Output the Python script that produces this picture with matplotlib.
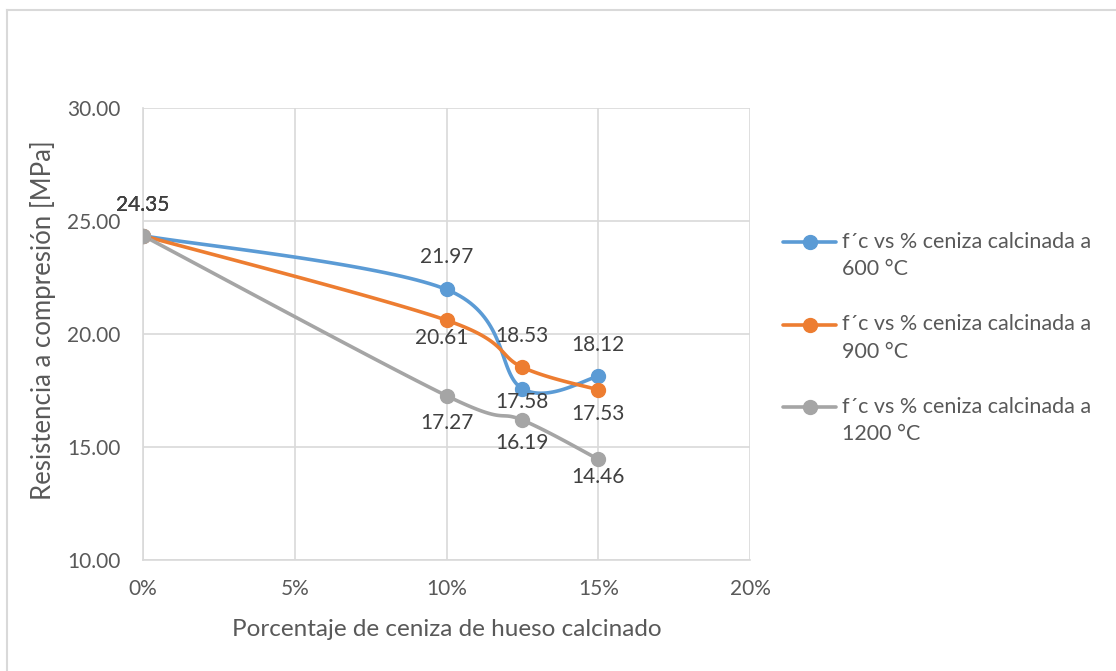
import numpy as np
import matplotlib
matplotlib.use("Agg")
import matplotlib.pyplot as plt
from matplotlib.lines import Line2D
from matplotlib.ticker import FuncFormatter

plt.rcParams['font.family'] = ['Lato', 'DejaVu Sans']

# Percentage of calcined bone ash and compressive strength (MPa)
ceniza_pct = [0, 10, 12.5, 15]
fc_600 = [24.35, 21.97, 17.58, 18.12]
fc_900 = [24.35, 20.61, 18.53, 17.53]
fc_1200 = [24.35, 17.27, 16.19, 14.46]

series_labels = [("f´c vs % ceniza calcinada a", "600 °C"),
                 ("f´c vs % ceniza calcinada a", "900 °C"),
                 ("f´c vs % ceniza calcinada a", "1200 °C")]
series_colors = ["#5B9BD5", "#ED7D31", "#A5A5A5"]
# vertical offset of each value label from its marker, in pixels
label_dy = [[31, 32, -13, 31],
            [31, -18, 31, -24],
            [31, -27, -23, -18]]
label_dx = [[0, 0, 0, 0],
            [0, -5, 0, 0],
            [0, 0, 0, 0]]

x_ticks = [0, 5, 10, 15, 20]
y_ticks = [10, 15, 20, 25, 30]

TEXT = "#595959"
GRID = "#D9D9D9"
W, H = 1116, 671

fig = plt.figure(figsize=(W / 100, H / 100), dpi=100)
ax = fig.add_axes([143 / W, 1 - 560 / H, 607 / W, 452 / H])
ax.set_xlim(0, 20)
ax.set_ylim(10, 30)


def smooth(xs, ys, n=40):
    """Catmull-Rom style cubic Bezier through points, computed in display space."""
    pts = ax.transData.transform(np.column_stack([xs, ys]))
    P = np.vstack([pts[0], pts, pts[-1]])
    out = []
    for i in range(1, len(P) - 2):
        p0, p1, p2, p3 = P[i - 1], P[i], P[i + 1], P[i + 2]
        c1 = p1 + (p2 - p0) / 6.0
        c2 = p2 - (p3 - p1) / 6.0
        t = np.linspace(0, 1, n)[:, None]
        seg = ((1 - t) ** 3) * p1 + 3 * ((1 - t) ** 2) * t * c1 + 3 * (1 - t) * t ** 2 * c2 + t ** 3 * p2
        out.append(seg if i == 1 else seg[1:])
    curve = np.vstack(out)
    return ax.transData.inverted().transform(curve)


for ys, col, dys, dxs in zip([fc_600, fc_900, fc_1200], series_colors, label_dy, label_dx):
    c = smooth(ceniza_pct, ys)
    ax.plot(c[:, 0], c[:, 1], color=col, lw=2.6, solid_capstyle='round', zorder=3)
    ax.plot(ceniza_pct, ys, 'o', color=col, ms=10, zorder=4)
    for xv, yv, dy, dx in zip(ceniza_pct, ys, dys, dxs):
        ax.annotate(f"{yv:.2f}", (xv, yv), xytext=(dx, dy), textcoords='offset pixels',
                    ha='center', va='center', fontsize=15, color="#404040", zorder=5)

ax.set_xticks(x_ticks)
ax.set_yticks(y_ticks)
ax.xaxis.set_major_formatter(FuncFormatter(lambda v, p: f"{v:.0f}%"))
ax.yaxis.set_major_formatter(FuncFormatter(lambda v, p: f"{v:.2f}"))
ax.grid(True, color=GRID, lw=1.2)
ax.set_axisbelow(True)
for s in ['top', 'right']:
    ax.spines[s].set_visible(False)
ax.spines['left'].set_color(GRID)
ax.spines['bottom'].set_color(GRID)
ax.spines['left'].set_linewidth(1.2)
ax.spines['bottom'].set_linewidth(1.2)
ax.tick_params(axis='x', length=0, labelsize=15, labelcolor=TEXT, pad=14)
ax.tick_params(axis='y', length=0, labelsize=15, labelcolor=TEXT, pad=16)
ax.set_xlabel("Porcentaje de ceniza de hueso calcinado", fontsize=17.5, color=TEXT, labelpad=14)
ax.set_ylabel("Resistencia a compresión [MPa]", fontsize=18.5, color=TEXT)
ax.yaxis.set_label_coords((56 - 143) / 607, (560 - 320) / 452)

# legend: line-and-marker sample beside a two-line label
for i, (col, (line1, line2)) in enumerate(zip(series_colors, series_labels)):
    yl = 1 - (242 + 82.5 * i) / H
    fig.add_artist(Line2D([783 / W, 836 / W], [yl, yl], color=col, lw=2.6,
                          solid_capstyle='round'))
    fig.add_artist(Line2D([810 / W], [yl], color=col, marker='o', ms=10))
    fig.text(842 / W, yl, line1, fontsize=15.5, color=TEXT, ha='left', va='center')
    fig.text(842 / W, yl - 27 / H, line2, fontsize=15.5, color=TEXT, ha='left', va='center')

# chart area border
fig.add_artist(Line2D([7 / W, 7 / W], [0, 1 - 10 / H], color=GRID, lw=1.5))
fig.add_artist(Line2D([7 / W, 1], [1 - 10 / H, 1 - 10 / H], color=GRID, lw=1.5))

fig.savefig("out.png", dpi=100, facecolor='white')
